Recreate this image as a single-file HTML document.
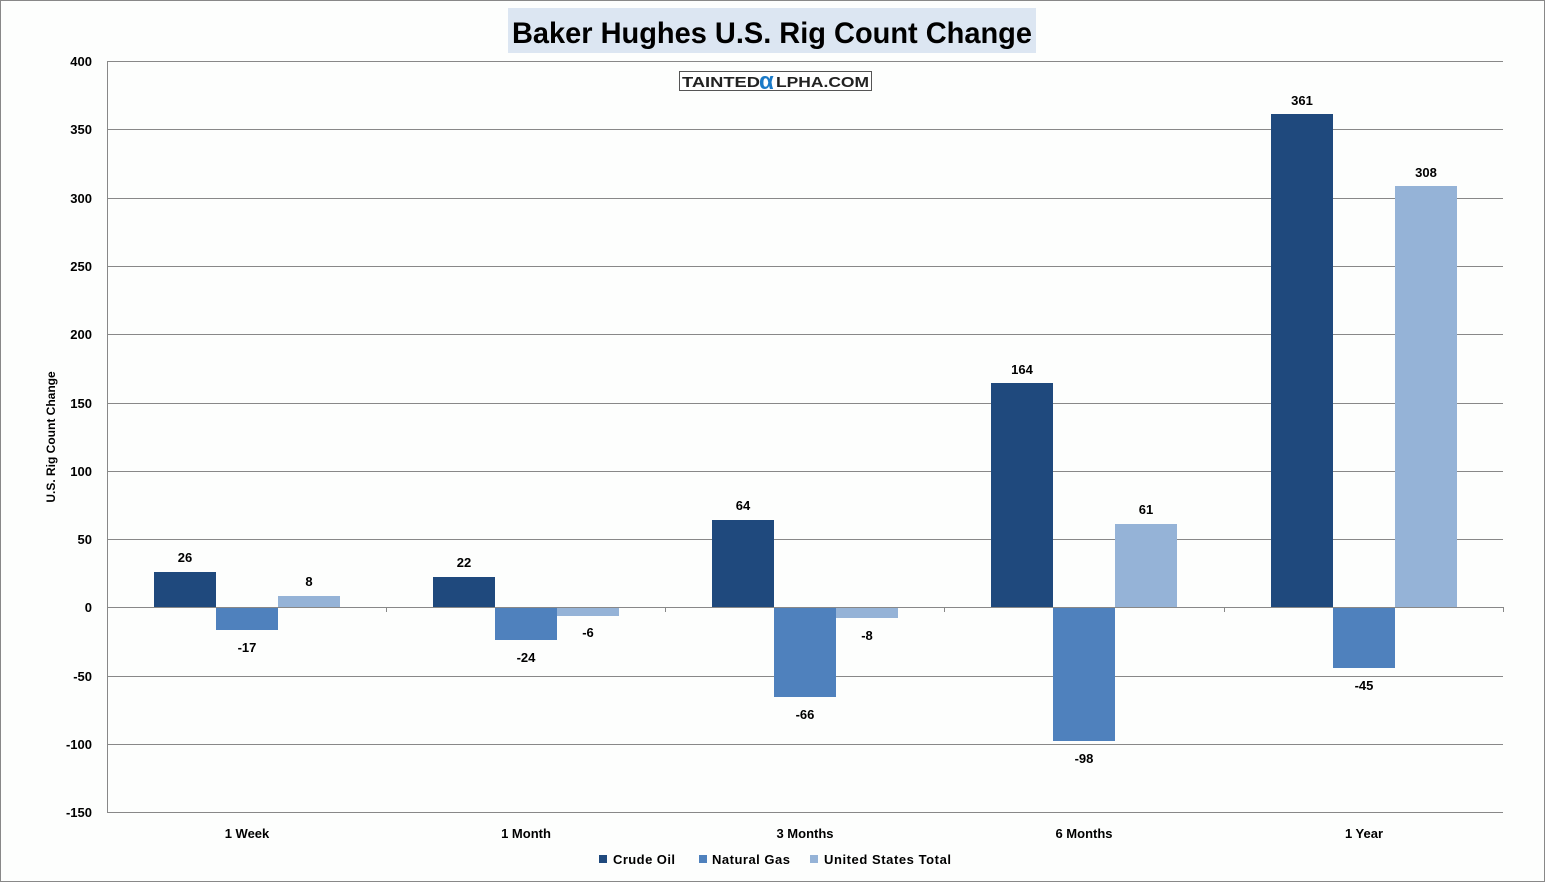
<!DOCTYPE html>
<html><head><style>
body{margin:0;background:#fff}
svg text{font-family:"Liberation Sans",sans-serif;font-weight:bold}
</style></head><body>
<svg width="1545" height="882" xmlns="http://www.w3.org/2000/svg">
<rect x="0.5" y="0.5" width="1544" height="881" fill="#fdfefd" stroke="#888"/>
<rect x="508" y="8" width="528" height="45" fill="#dce6f2"/>
<text x="512" y="43" font-size="30" fill="#000" textLength="520" lengthAdjust="spacingAndGlyphs">Baker Hughes U.S. Rig Count Change</text>
<rect x="679.5" y="71.5" width="192" height="19" fill="#fff" stroke="#555"/>
<text x="682" y="87" font-size="15" fill="#222" textLength="78" lengthAdjust="spacingAndGlyphs">TAINTED</text>
<text x="759" y="89" font-size="24" fill="#1a7ac8">α</text>
<text x="776" y="87" font-size="15" fill="#222" textLength="93" lengthAdjust="spacingAndGlyphs">LPHA.COM</text>
<g stroke="#888" stroke-width="1">
<line x1="107" y1="61.5" x2="1503" y2="61.5"/>
<line x1="107" y1="129.5" x2="1503" y2="129.5"/>
<line x1="107" y1="198.5" x2="1503" y2="198.5"/>
<line x1="107" y1="266.5" x2="1503" y2="266.5"/>
<line x1="107" y1="334.5" x2="1503" y2="334.5"/>
<line x1="107" y1="403.5" x2="1503" y2="403.5"/>
<line x1="107" y1="471.5" x2="1503" y2="471.5"/>
<line x1="107" y1="539.5" x2="1503" y2="539.5"/>
<line x1="107" y1="676.5" x2="1503" y2="676.5"/>
<line x1="107" y1="744.5" x2="1503" y2="744.5"/>
<line x1="107" y1="812.5" x2="1503" y2="812.5"/>
<line x1="107.5" y1="61" x2="107.5" y2="812"/>
</g>
<g font-size="13" text-anchor="end" fill="#000">
<text x="92" y="66">400</text><text x="92" y="134">350</text><text x="92" y="203">300</text>
<text x="92" y="271">250</text><text x="92" y="339">200</text><text x="92" y="408">150</text>
<text x="92" y="476">100</text><text x="92" y="544">50</text><text x="92" y="612">0</text>
<text x="92" y="681">-50</text><text x="92" y="749">-100</text><text x="92" y="817">-150</text>
</g>
<text transform="translate(55,437) rotate(-90)" font-size="12" text-anchor="middle">U.S. Rig Count Change</text>
<g>
<rect x="154" y="572" width="62" height="35" fill="#1f497d"/>
<rect x="216" y="607" width="62" height="23" fill="#4f81bd"/>
<rect x="278" y="596" width="62" height="11" fill="#95b3d7"/>
<rect x="433" y="577" width="62" height="30" fill="#1f497d"/>
<rect x="495" y="607" width="62" height="33" fill="#4f81bd"/>
<rect x="557" y="607" width="62" height="9" fill="#95b3d7"/>
<rect x="712" y="520" width="62" height="87" fill="#1f497d"/>
<rect x="774" y="607" width="62" height="90" fill="#4f81bd"/>
<rect x="836" y="607" width="62" height="11" fill="#95b3d7"/>
<rect x="991" y="383" width="62" height="224" fill="#1f497d"/>
<rect x="1053" y="607" width="62" height="134" fill="#4f81bd"/>
<rect x="1115" y="524" width="62" height="83" fill="#95b3d7"/>
<rect x="1271" y="114" width="62" height="493" fill="#1f497d"/>
<rect x="1333" y="607" width="62" height="61" fill="#4f81bd"/>
<rect x="1395" y="186" width="62" height="421" fill="#95b3d7"/>
</g>
<g stroke="#888"><line x1="107" y1="607.5" x2="1503" y2="607.5"/>
<line x1="386.5" y1="607" x2="386.5" y2="612"/><line x1="665.5" y1="607" x2="665.5" y2="612"/>
<line x1="944.5" y1="607" x2="944.5" y2="612"/><line x1="1224.5" y1="607" x2="1224.5" y2="612"/>
<line x1="1503.5" y1="607" x2="1503.5" y2="612"/></g>
<g font-size="13" text-anchor="middle">
<text x="185" y="562">26</text><text x="247" y="652">-17</text><text x="309" y="586">8</text>
<text x="464" y="567">22</text><text x="526" y="662">-24</text><text x="588" y="637">-6</text>
<text x="743" y="510">64</text><text x="805" y="719">-66</text><text x="867" y="640">-8</text>
<text x="1022" y="374">164</text><text x="1084" y="763">-98</text><text x="1146" y="514">61</text>
<text x="1302" y="105">361</text><text x="1364" y="690">-45</text><text x="1426" y="177">308</text>
<text x="247" y="838">1 Week</text><text x="526" y="838">1 Month</text><text x="805" y="838">3 Months</text>
<text x="1084" y="838">6 Months</text><text x="1364" y="838">1 Year</text>
</g>
<g font-size="13">
<rect x="599" y="855" width="8" height="8" fill="#1f497d"/><text x="613" y="864" textLength="62">Crude Oil</text>
<rect x="699" y="855" width="8" height="8" fill="#4f81bd"/><text x="712" y="864" textLength="78">Natural Gas</text>
<rect x="810" y="855" width="8" height="8" fill="#95b3d7"/><text x="824" y="864" textLength="127">United States Total</text>
</g>
</svg>
</body></html>
